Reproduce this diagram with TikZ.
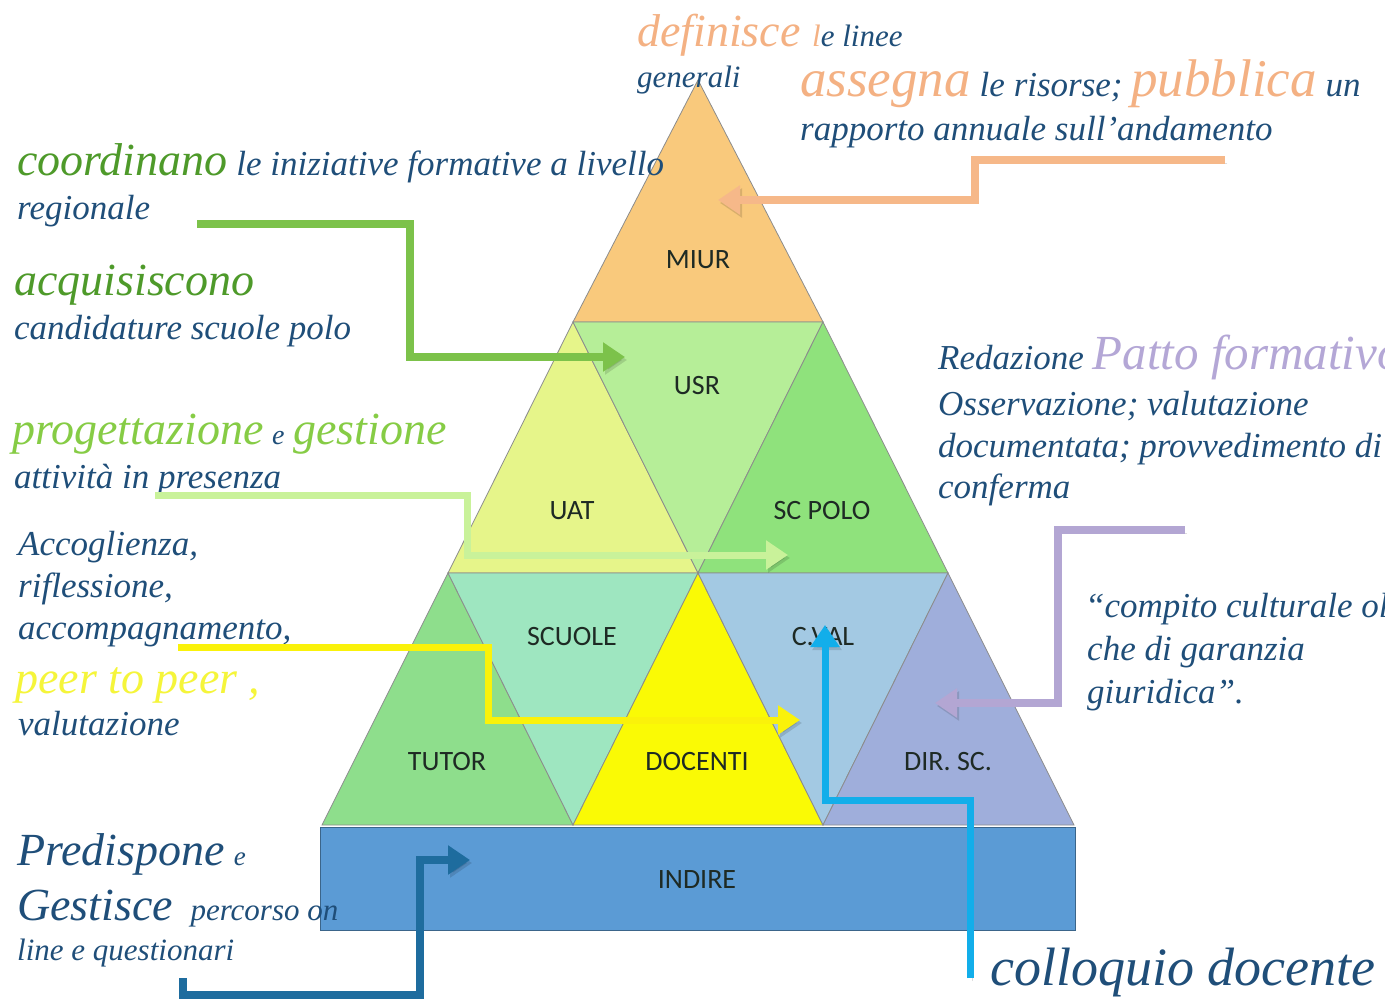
\documentclass[tikz,border=0pt]{standalone}
\usepackage{fontspec}
\setmainfont{Liberation Serif}
\newfontfamily\labfont{Carlito}
\usetikzlibrary{arrows.meta}
\definecolor{txtblue}{HTML}{1F4E79}
\definecolor{peach}{HTML}{F4B183}
\definecolor{dgreen}{HTML}{4E9A2A}
\definecolor{lgreen}{HTML}{86CC45}
\definecolor{pyellow}{HTML}{F5F53A}
\definecolor{lav}{HTML}{B4A7D6}
\definecolor{cMIUR}{HTML}{F9C97C}
\definecolor{cUAT}{HTML}{E6F58A}
\definecolor{cUSR}{HTML}{B6EE98}
\definecolor{cPOLO}{HTML}{8FE27C}
\definecolor{cTUTOR}{HTML}{8EDE8C}
\definecolor{cSCUOLE}{HTML}{9EE6C0}
\definecolor{cDOC}{HTML}{FAFA05}
\definecolor{cCVAL}{HTML}{A3C9E3}
\definecolor{cDIR}{HTML}{9FAEDB}
\definecolor{cINDIRE}{HTML}{5B9BD5}
\definecolor{aPeach}{HTML}{F6B889}
\definecolor{aGreen}{HTML}{7CC24A}
\definecolor{aLgreen}{HTML}{C9F29A}
\definecolor{aYellow}{HTML}{FAF20A}
\definecolor{aLav}{HTML}{B3A6D3}
\definecolor{aCyan}{HTML}{12AEEA}
\definecolor{aDblue}{HTML}{1E6C9E}
\definecolor{labcol}{HTML}{1E2A24}
\newcommand{\hw}[2]{{\color{#1}\fontsize{46}{46}\selectfont #2}}
\newcommand{\hwl}[2]{{\color{#1}\fontsize{53}{53}\selectfont #2}}
\begin{document}
\begin{tikzpicture}[x=1pt,y=-1pt,
  tri/.style={draw=black!45,line width=0.8pt},
  lab/.style={font=\labfont\fontsize{28}{28}\selectfont,text=labcol,inner sep=0},
  txt/.style={font=\itshape\fontsize{35}{35}\selectfont,text=txtblue,inner sep=0,anchor=base west},
  arr/.style={line width=8pt,-{Triangle[length=22pt,width=28pt]},
    preaction={draw=black,opacity=0.13,transform canvas={shift={(2pt,-3pt)}}}}]
\useasboundingbox (0,0) rectangle (1385,1000);
\clip (0,0) rectangle (1385,1000);
\fill[white] (0,0) rectangle (1385,1000);
% pyramid vertices
\coordinate (A) at (698,80);
\coordinate (B1) at (573,322);
\coordinate (B2) at (823,322);
\coordinate (C1) at (448,573);
\coordinate (C2) at (698,573);
\coordinate (C3) at (948,573);
\coordinate (D1) at (322,825);
\coordinate (D2) at (573,825);
\coordinate (D3) at (823,825);
\coordinate (D4) at (1074,825);
% triangles
\filldraw[tri,fill=cMIUR] (A) -- (B1) -- (B2) -- cycle;
\filldraw[tri,fill=cUAT] (B1) -- (C1) -- (C2) -- cycle;
\filldraw[tri,fill=cUSR] (B1) -- (B2) -- (C2) -- cycle;
\filldraw[tri,fill=cPOLO] (B2) -- (C2) -- (C3) -- cycle;
\filldraw[tri,fill=cTUTOR] (C1) -- (D1) -- (D2) -- cycle;
\filldraw[tri,fill=cSCUOLE] (C1) -- (C2) -- (D2) -- cycle;
\filldraw[tri,fill=cDOC] (C2) -- (D2) -- (D3) -- cycle;
\filldraw[tri,fill=cCVAL] (C2) -- (C3) -- (D3) -- cycle;
\filldraw[tri,fill=cDIR] (C3) -- (D3) -- (D4) -- cycle;
\filldraw[fill=cINDIRE,draw=black!35!cINDIRE,line width=1pt] (320,827) rectangle (1075,930);
% labels
\node[lab] (miur) at (698,260) {MIUR};
\node[lab] (usr) at (697,386) {USR};
\node[lab] (uat) at (572,511) {UAT};
\node[lab] (polo) at (822,511) {SC POLO};
\node[lab] (scuole) at (572,637) {SCUOLE};
\node[lab] (cval) at (823,637) {C.VAL};
\node[lab] (tutor) at (447,762) {TUTOR};
\node[lab] (doc) at (697,762) {DOCENTI};
\node[lab] (dir) at (948,762) {DIR. SC.};
\node[lab] (indire) at (697,880) {INDIRE};
% texts
\node[txt] (t1) at (637,47) {\hw{peach}{definisce }{\color{peach}\fontsize{31}{31}\selectfont l}{\fontsize{31}{31}\selectfont e linee}};
\node[txt] (t2) at (637,88) {\fontsize{31}{31}\selectfont generali};
\node[txt] (t3) at (800,97) {\hwl{peach}{assegna} le risorse; \hwl{peach}{pubblica} un};
\node[txt] (t4) at (800,141) {rapporto annuale sull’andamento};
\node[txt] (t5) at (17,176) {\hw{dgreen}{coordinano} le iniziative formative a livello};
\node[txt] (t6) at (17,220) {regionale};
\node[txt] (t7) at (14,296) {\hw{dgreen}{acquisiscono}};
\node[txt] (t8) at (14,340) {candidature scuole polo};
\node[txt] (t9) at (12,444) {\hw{lgreen}{progettazione} {\fontsize{28}{28}\selectfont e} \hw{lgreen}{gestione}};
\node[txt] (t10) at (14,488) {attività in presenza};
\node[txt] (t11) at (18,555) {Accoglienza,};
\node[txt] (t12) at (18,597) {riflessione,};
\node[txt] (t13) at (18,639) {accompagnamento,};
\node[txt] (t14) at (15,693) {\hw{pyellow}{peer to peer ,}};
\node[txt] (t15) at (18,735) {valutazione};
\node[txt] (t16) at (17,865) {\hw{txtblue}{Predispone} {\fontsize{27}{27}\selectfont e}};
\node[txt] (t17) at (17,920) {\hw{txtblue}{Gestisce}\ \ {\fontsize{31}{31}\selectfont percorso on}};
\node[txt] (t18) at (17,960) {\fontsize{31}{31}\selectfont line e questionari};
\node[txt] (t19) at (938,370) {Redazione {\color{lav}\fontsize{49}{49}\selectfont Patto formativo}};
\node[txt] (t20) at (938,415) {Osservazione; valutazione};
\node[txt] (t21) at (938,457) {documentata; provvedimento di};
\node[txt] (t22) at (938,498) {conferma};
\node[txt] (t23) at (1085,617) {“compito culturale oltre};
\node[txt] (t24) at (1087,660) {che di garanzia};
\node[txt] (t25) at (1087,703) {giuridica”.};
\node[txt] (t26) at (990,985) {\fontsize{54}{54}\selectfont colloquio docente};
% arrow coordinates
\coordinate (pa0) at (1225,160); \coordinate (pa1) at (975,160); \coordinate (pa2) at (975,200); \coordinate (pa3) at (718,200);
\coordinate (ga0) at (197,224); \coordinate (ga1) at (410,224); \coordinate (ga2) at (410,357); \coordinate (ga3) at (625,357);
\coordinate (la0) at (155,495); \coordinate (la1) at (467,495); \coordinate (la2) at (467,555); \coordinate (la3) at (788,555);
\coordinate (ya0) at (178,647); \coordinate (ya1) at (488,647); \coordinate (ya2) at (488,720); \coordinate (ya3) at (800,720);
\coordinate (va0) at (1185,530); \coordinate (va1) at (1058,530); \coordinate (va2) at (1058,703); \coordinate (va3) at (935,703);
\coordinate (ca0) at (970,978); \coordinate (ca1) at (970,800); \coordinate (ca2) at (825,800); \coordinate (ca3) at (825,625);
\coordinate (da0) at (183,978); \coordinate (da1) at (183,995); \coordinate (da2) at (420,995); \coordinate (da3) at (420,860); \coordinate (da4) at (470,860);
% arrows
\draw[arr,aPeach] (pa0) -- (pa1) -- (pa2) -- (pa3);
\draw[arr,aGreen] (ga0) -- (ga1) -- (ga2) -- (ga3);
\draw[arr,aLgreen,line width=7pt] (la0) -- (la1) -- (la2) -- (la3);
\draw[arr,aYellow,line width=7pt] (ya0) -- (ya1) -- (ya2) -- (ya3);
\draw[arr,aLav] (va0) -- (va1) -- (va2) -- (va3);
\draw[arr,aCyan,line width=7pt] (ca0) -- (ca1) -- (ca2) -- (ca3);
\draw[arr,aDblue] (da0) -- (da1) -- (da2) -- (da3) -- (da4);
\end{tikzpicture}
\end{document}
